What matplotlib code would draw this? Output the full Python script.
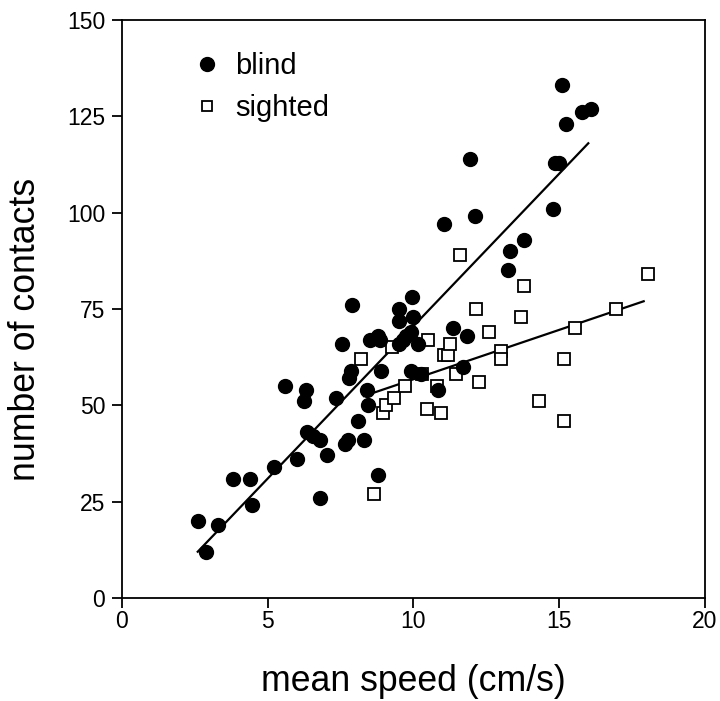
import numpy as np
import matplotlib
matplotlib.use("Agg")
import matplotlib.pyplot as plt

plt.rcParams['font.family'] = ['Liberation Sans', 'DejaVu Sans']

# blind animals: mean speed (cm/s) and number of contacts
blind_x = [2.6, 2.9, 3.3, 3.8, 4.4, 4.45, 5.2, 5.6, 6.0, 6.3, 6.25, 6.35, 6.55,
           6.8, 6.8, 7.05, 7.35, 7.55, 7.65, 7.75, 7.8, 7.85, 7.9, 8.1, 8.3,
           8.4, 8.45, 8.5, 8.8, 8.85, 8.9, 8.8, 9.5, 9.5, 9.5, 9.65, 9.75, 9.9,
           9.95, 10.0, 9.9, 10.15, 10.25, 10.85, 11.05, 11.35, 11.7, 11.85,
           11.95, 12.1, 13.25, 13.3, 13.8, 14.8, 14.85, 15.0, 15.1, 15.25,
           15.8, 16.1]
blind_y = [20, 12, 19, 31, 31, 24, 34, 55, 36, 54, 51, 43, 42,
           41, 26, 37, 52, 66, 40, 41, 57, 59, 76, 46, 41,
           54, 50, 67, 68, 67, 59, 32, 75, 72, 66, 67, 68, 69,
           78, 73, 59, 66, 58, 54, 97, 70, 60, 68,
           114, 99, 85, 90, 93, 101, 113, 113, 133, 123,
           126, 127]

# sighted animals
sighted_x = [8.65, 8.2, 8.95, 9.05, 9.25, 9.35, 9.7, 10.5, 10.45, 10.95, 11.05,
             11.2, 11.25, 10.8, 10.3, 11.45, 11.6, 12.15, 12.25, 12.6, 13.0,
             13.0, 13.7, 13.8, 14.3, 15.15, 15.15, 15.55, 16.95, 18.05]
sighted_y = [27, 62, 48, 50, 65, 52, 55, 67, 49, 48, 63,
             63, 66, 55, 58, 58, 89, 75, 56, 69, 64,
             62, 73, 81, 51, 62, 46, 70, 75, 84]

# regression lines (end points)
blind_fit_x = [2.6, 16.0]
blind_fit_y = [12.0, 118.0]
sighted_fit_x = [8.3, 17.9]
sighted_fit_y = [52.4, 77.0]

fig = plt.figure(figsize=(7.2, 7.01), dpi=100)
ax = fig.add_axes([0.1694, 0.147, 0.8096, 0.8245])

ax.plot(blind_fit_x, blind_fit_y, color='black', lw=1.6, zorder=2)
ax.plot(sighted_fit_x, sighted_fit_y, color='black', lw=1.6, zorder=2)

ax.plot(sighted_x, sighted_y, linestyle='none', marker='s', markersize=8.5,
        markerfacecolor='white', markeredgecolor='black', markeredgewidth=1.3,
        label='sighted', zorder=3)
ax.plot(blind_x, blind_y, linestyle='none', marker='o', markersize=10,
        color='black', label='blind', zorder=4)

ax.set_xlim(0, 20)
ax.set_ylim(0, 150)
ax.set_xticks([0, 5, 10, 15, 20])
ax.set_yticks([0, 25, 50, 75, 100, 125, 150])
ax.tick_params(direction='out', length=7, width=1.3, labelsize=16.5)
ax.tick_params(axis='x', pad=2)
ax.tick_params(axis='y', pad=5)
for s in ax.spines.values():
    s.set_linewidth(1.3)

ax.set_xlabel('mean speed (cm/s)', fontsize=25.7, labelpad=22)
ax.set_ylabel('number of contacts', fontsize=25.7)
ax.yaxis.set_label_coords(-0.135, 0.465)

h, l = ax.get_legend_handles_labels()
leg = ax.legend(h[::-1], l[::-1], loc='upper left', bbox_to_anchor=(0.076, 0.99),
                frameon=False, fontsize=21, handlelength=1.0, handletextpad=0.45,
                labelspacing=0.49)
leg.legend_handles[1].set_markersize(7)

fig.savefig('out.png', dpi=100)
